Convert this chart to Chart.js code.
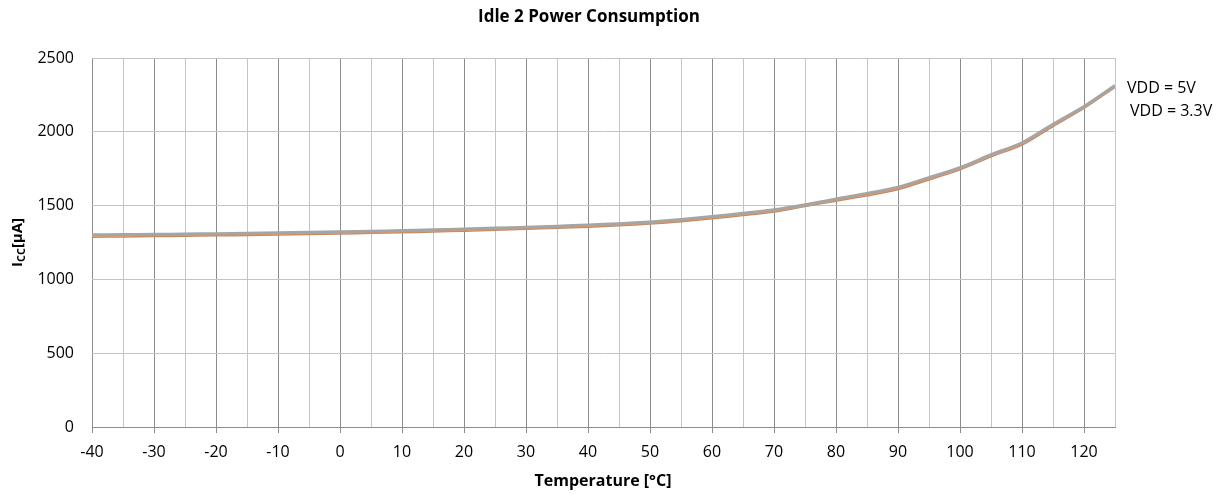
<!DOCTYPE html>
<html>
<head>
<meta charset="utf-8">
<script src="https://cdn.jsdelivr.net/npm/chart.js@4/dist/chart.umd.min.js"></script>
<style>
  html, body { margin: 0; padding: 0; background: #fff; }
  #wrap { width: 1230px; height: 495px; position: relative; }
</style>
</head>
<body>
<div id="wrap"><canvas id="myChart"></canvas></div>
<script>
'use strict';

// temperature in °C
const temps = [-40, -35, -30, -25, -20, -15, -10, -5, 0, 5, 10, 15, 20, 25, 30, 35, 40, 45, 50, 55, 60, 65, 70, 75, 80, 85, 90, 95, 100, 105, 110, 115, 120, 125];
// Icc in µA
const vdd5 = [1300, 1302, 1304, 1306, 1308, 1311, 1314, 1317, 1321, 1325, 1329, 1334, 1340, 1346, 1352, 1359, 1367, 1376, 1388, 1404, 1424, 1446, 1470, 1504, 1543, 1580, 1623, 1688, 1755, 1843, 1924, 2050, 2170, 2312];
const vdd33 = [1286, 1288, 1290, 1292, 1295, 1298, 1301, 1304, 1308, 1312, 1316, 1321, 1327, 1333, 1339, 1346, 1354, 1363, 1375, 1391, 1411, 1433, 1457, 1494, 1530, 1566, 1609, 1674, 1742, 1830, 1910, 2036, 2158, 2302];
const seriesNames = ['VDD = 5V', 'VDD = 3.3V'];

const font = "'Open Sans', 'Noto Sans', sans-serif";

const textPlugin = {
    id: 'texts',
    afterDraw(chart) {
        const c = chart.ctx;
        const area = chart.chartArea;
        c.save();
        c.fillStyle = '#000';
        c.textBaseline = 'middle';

        // chart title
        c.font = 'bold 17px ' + font;
        c.textAlign = 'center';
        c.fillText('Idle 2 Power Consumption', 589, 17);

        // x axis title
        c.font = 'bold 16px ' + font;
        c.fillText('Temperature [°C]', 603, 481);

        // y axis title with subscript
        c.translate(18, (area.top + area.bottom) / 2);
        c.rotate(-Math.PI / 2);
        const big = 'bold 15px ' + font, small = 'bold 11px ' + font;
        c.font = big; const wI = c.measureText('I').width;
        c.font = small; const wCC = c.measureText('CC').width;
        c.font = big; const wU = c.measureText('[µA]').width;
        let x = -(wI + wCC + wU) / 2;
        c.textAlign = 'left';
        c.font = big; c.fillText('I', x, 0); x += wI;
        c.font = small; c.fillText('CC', x, 4); x += wCC;
        c.font = big; c.fillText('[µA]', x, 0);
        c.restore();

        // series labels at the line ends
        c.save();
        c.font = '16px ' + font;
        c.fillStyle = '#000';
        c.textBaseline = 'middle';
        c.textAlign = 'left';
        const xs = chart.scales.x, ys = chart.scales.y;
        const lastX = xs.getPixelForValue(temps[temps.length - 1]);
        c.fillText(seriesNames[0], lastX + 12, ys.getPixelForValue(vdd5[vdd5.length - 1]) + 3);
        c.fillText(seriesNames[1], lastX + 15, ys.getPixelForValue(vdd33[vdd33.length - 1]) + 24);
        c.restore();
    }
};

const ctx = document.getElementById('myChart');
new Chart(ctx, {
    type: 'line',
    data: {
        labels: temps,
        datasets: [{
            label: seriesNames[0],
            data: temps.map((t, i) => ({x: t, y: vdd5[i]})),
            borderColor: '#a5a5a5',
            borderWidth: 3.5,
            pointRadius: 0,
            tension: 0.3
        }, {
            label: seriesNames[1],
            data: temps.map((t, i) => ({x: t, y: vdd33[i]})),
            borderColor: '#ed7d31',
            borderWidth: 1.5,
            pointRadius: 0,
            tension: 0.3
        }]
    },
    options: {
        responsive: true,
        maintainAspectRatio: false,
        animation: false,
        layout: { padding: { left: 0, top: 58, right: 115, bottom: 0 } },
        plugins: {
            legend: { display: false },
            title: { display: false },
            tooltip: { enabled: false }
        },
        scales: {
            x: {
                type: 'linear',
                min: -40,
                max: 125,
                afterFit: s => { s.height = 68; },
                border: { color: '#8c8c8c', width: 1 },
                grid: {
                    color: c => (c.tick && c.tick.value % 10 === 0) ? '#8c8c8c' : '#c4c4c4',
                    tickColor: c => (c.tick && c.tick.value % 10 === 0) ? '#8c8c8c' : 'rgba(0,0,0,0)',
                    tickLength: 6,
                    lineWidth: 1
                },
                ticks: {
                    stepSize: 5,
                    autoSkip: false,
                    maxRotation: 0,
                    padding: 10,
                    color: '#000',
                    font: { family: font, size: 16 },
                    callback: v => (v % 10 === 0 ? String(v) : '')
                }
            },
            y: {
                min: 0,
                max: 2500,
                afterFit: s => { s.width = 92; },
                border: { display: false },
                grid: { color: '#c4c4c4', drawTicks: false, lineWidth: 1 },
                ticks: {
                    stepSize: 500,
                    padding: 18,
                    color: '#000',
                    font: { family: font, size: 16 },
                    callback: v => String(v)
                }
            }
        }
    },
    plugins: [textPlugin]
});
</script>
</body>
</html>
